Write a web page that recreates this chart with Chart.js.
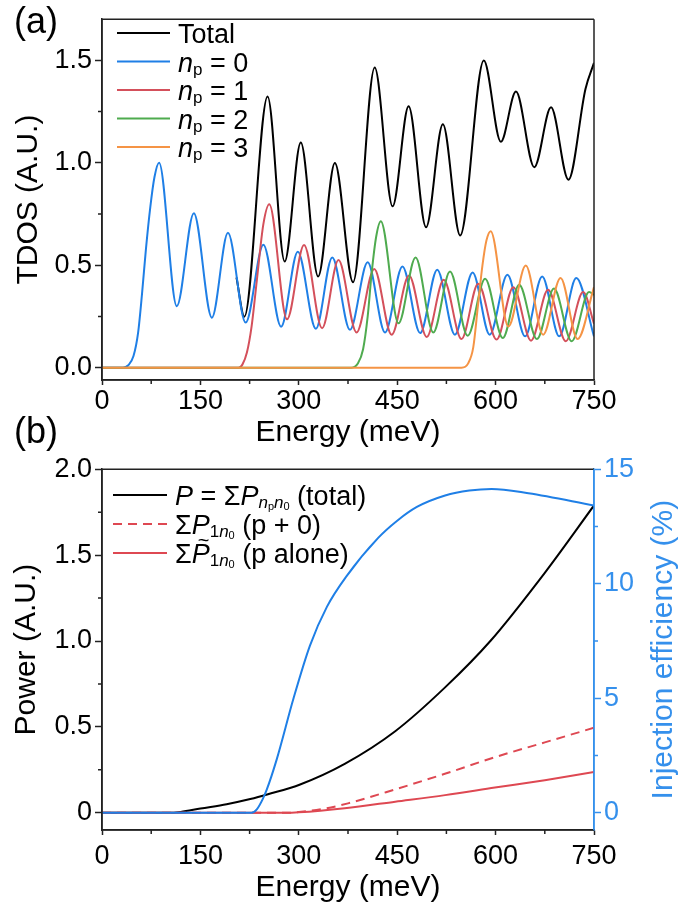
<!DOCTYPE html>
<html>
<head>
<meta charset="utf-8">
<script src="https://cdn.jsdelivr.net/npm/chart.js@4/dist/chart.umd.min.js"></script>
<style>
  body { margin: 0; background: #fff; width: 680px; height: 911px; position: relative; overflow: hidden;
         font-family: 'Liberation Sans', Arial, sans-serif; }
  canvas { position: absolute; left: 0; }
  #ca { top: 0; }
  #cb { top: 450px; }
  .tag { position: absolute; left: 14px; font-size: 36px; line-height: 36px; color: #000; }
</style>
</head>
<body>
<canvas id="ca" width="680" height="455"></canvas>
<canvas id="cb" width="680" height="461"></canvas>
<div class="tag" style="top:3px">(a)</div>
<div class="tag" style="top:413px">(b)</div>
<script>
// ---- panel (a): TDOS ----
const energyTotal = [205, 217, 252.4, 278.5, 303, 329.5, 355, 382.7, 415.7, 443, 467.4, 494, 519.6, 546, 582, 608, 631, 659, 684.5, 711, 737, 750]
const tdosTotal   = [0.44, 0.249, 1.323, 0.518, 1.098, 0.445, 0.999, 0.417, 1.464, 0.787, 1.275, 0.685, 1.187, 0.645, 1.499, 1.102, 1.347, 0.978, 1.27, 0.917, 1.36, 1.487]

const energyN0 = [0, 32, 40, 48, 55, 61, 67, 73.5, 80, 87, 114, 140, 167.5, 192, 219, 246, 273, 298.5, 326, 351, 378, 405, 431.5, 458, 485, 511, 538, 565, 591, 618, 645, 671, 697, 723, 750]
const tdosN0   = [0, 0, 0.012, 0.057, 0.17, 0.36, 0.58, 0.78, 0.93, 1.0, 0.30, 0.754, 0.244, 0.658, 0.22, 0.60, 0.20, 0.566, 0.19, 0.538, 0.185, 0.514, 0.172, 0.494, 0.169, 0.478, 0.161, 0.465, 0.161, 0.453, 0.153, 0.445, 0.153, 0.437, 0.153]

const energyN1 = [0, 208, 214, 221, 228, 236, 246, 255, 282, 308, 335.5, 360.5, 388, 415, 441.5, 468, 495, 521, 548, 573.5, 601.5, 627, 654, 680, 707, 733.5, 750]
const tdosN1   = [0, 0, 0.015, 0.075, 0.2, 0.425, 0.7, 0.797, 0.236, 0.599, 0.193, 0.525, 0.172, 0.482, 0.161, 0.45, 0.15, 0.429, 0.14, 0.41, 0.137, 0.393, 0.132, 0.38, 0.129, 0.369, 0.215]

const energyN2 = [0, 380, 390, 398, 405, 411, 418, 425, 452, 478, 505, 530.5, 557.5, 584, 611, 636, 663, 689, 716, 742.5, 750]
const tdosN2   = [0, 0, 0.02, 0.09, 0.25, 0.46, 0.64, 0.714, 0.217, 0.538, 0.172, 0.469, 0.156, 0.434, 0.145, 0.405, 0.14, 0.386, 0.129, 0.369, 0.355]

const energyN3 = [0, 548, 558, 566, 573, 580, 586, 592.5, 619.5, 646, 672.5, 699, 725, 750]
const tdosN3   = [0, 0, 0.02, 0.1, 0.3, 0.5, 0.62, 0.666, 0.201, 0.498, 0.161, 0.438, 0.14, 0.393]

// ---- panel (b): power and injection efficiency ----
const energyPower = [0, 100, 120, 150, 190, 226, 253, 302, 370, 447, 523, 592, 675, 750]
const powerTotal  = [0, 0, 0.005, 0.025, 0.05, 0.08, 0.108, 0.165, 0.285, 0.475, 0.73, 1.0, 1.397, 1.789]

const energyP10 = [0, 280, 300, 340, 375, 450, 525, 600, 675, 750]
const powerP10  = [0, 0, 0.005, 0.025, 0.055, 0.14, 0.23, 0.325, 0.41, 0.495]

const energyP1alone = [0, 280, 300, 370, 447, 523, 599, 675, 750]
const powerP1alone  = [0, 0, 0.003, 0.027, 0.065, 0.103, 0.147, 0.19, 0.237]

const energyEff = [0, 228, 236, 245, 251, 266, 292, 317, 343, 372, 421, 450, 480, 523, 560, 594, 650, 750]
const efficiency = [0, 0, 0.15, 0.6, 1.0, 2.3, 5.0, 7.3, 9.0, 10.3, 12.0, 12.75, 13.35, 13.85, 14.07, 14.14, 13.95, 13.42]

// ---- ticks ----
const energyTicks = [0, 150, 300, 450, 600, 750]
const energyMinor = [75, 225, 375, 525, 675]
const tdosTicks = [0, 0.5, 1.0, 1.5]
const tdosMinor = [0.25, 0.75, 1.25]
const powerTicks = [0, 0.5, 1.0, 1.5, 2.0]
const powerMinor = [0.25, 0.75, 1.25, 1.75]
const effTicks = [0, 5, 10, 15]
const effMinor = [2.5, 7.5, 12.5]

// legend text pieces: [text, style]
const legendA = [
  [['Total', 'r']],
  [['n', 'i'], ['p', 's'], [' = 0', 'r']],
  [['n', 'i'], ['p', 's'], [' = 1', 'r']],
  [['n', 'i'], ['p', 's'], [' = 2', 'r']],
  [['n', 'i'], ['p', 's'], [' = 3', 'r']]
]
const legendB = [
  [['P', 'i'], [' = Σ', 'r'], ['P', 'i'], ['n', 'si'], ['p', 'ss'], ['n', 'si'], ['0', 'ss'], [' (total)', 'r']],
  [['Σ', 'r'], ['P', 'i'], ['1', 's'], ['n', 'si'], ['0', 'ss'], [' (p + 0)', 'r']],
  [['Σ', 'r'], ['P', 'i'], ['~', 'tl'], ['1', 's'], ['n', 'si'], ['0', 'ss'], [' (p alone)', 'r']]
]

const FONT = "'Liberation Sans', Arial, sans-serif"
const AXIS = '#222'
const BLUE = '#1f7fe6'
const RIGHT_BLUE = '#3590ec'
const RED_A = '#d4505b'
const RED_B = '#de4852'
const GREEN = '#4fab4f'
const ORANGE = '#f59445'

const pts = (xs, ys) => xs.map((x, i) => ({ x, y: ys[i] }))
const setTicks = vals => scale => { scale.ticks = vals.map(v => ({ value: v })) }

const STY = {
  r:  { size: 27, it: false, dy: 0 },
  i:  { size: 27, it: true,  dy: 0 },
  s:  { size: 17, it: false, dy: 3 },
  si: { size: 17, it: true,  dy: 3 },
  ss: { size: 11, it: false, dy: 5 }
}

function drawRich(ctx, x, y, parts) {
  let lastW = 0
  for (const [txt, st] of parts) {
    if (st === 'tl') {
      ctx.font = `20px ${FONT}`
      const w = ctx.measureText(txt).width
      ctx.fillText(txt, x - lastW / 2 - w / 2 + 3, y - 16)
      continue
    }
    const f = STY[st]
    ctx.font = `${f.it ? 'italic ' : ''}${f.size}px ${FONT}`
    ctx.fillText(txt, x, y + f.dy)
    lastW = ctx.measureText(txt).width
    x += lastW
  }
}

const frame = {
  id: 'frame',
  afterDraw(chart, args, o) {
    const { ctx, chartArea: a, scales } = chart
    ctx.save()
    ctx.lineWidth = 1.5
    ctx.strokeStyle = AXIS
    ctx.beginPath()
    ctx.moveTo(a.right, a.top); ctx.lineTo(a.left, a.top)
    ctx.lineTo(a.left, a.bottom); ctx.lineTo(a.right, a.bottom)
    ctx.stroke()
    ctx.strokeStyle = o.rightColor || AXIS
    ctx.beginPath(); ctx.moveTo(a.right, a.top); ctx.lineTo(a.right, a.bottom); ctx.stroke()

    ctx.strokeStyle = AXIS
    ctx.beginPath()
    for (const v of o.xMinor) {
      const p = scales.x.getPixelForValue(v)
      ctx.moveTo(p, a.bottom); ctx.lineTo(p, a.bottom + 4)
    }
    for (const v of o.yMinor) {
      const p = scales.y.getPixelForValue(v)
      ctx.moveTo(a.left - 4, p); ctx.lineTo(a.left, p)
    }
    ctx.stroke()
    if (o.y1Minor) {
      ctx.strokeStyle = o.rightColor
      ctx.beginPath()
      for (const v of o.y1Minor) {
        const p = scales.y1.getPixelForValue(v)
        ctx.moveTo(a.right, p); ctx.lineTo(a.right + 4, p)
      }
      ctx.stroke()
    }
    if (o.rightTitle) {
      ctx.fillStyle = o.rightColor
      ctx.font = `30px ${FONT}`
      ctx.textAlign = 'center'
      ctx.textBaseline = 'middle'
      ctx.translate(o.rightTitleX, (a.top + a.bottom) / 2)
      ctx.rotate(-Math.PI / 2)
      ctx.fillText(o.rightTitle, 0, 0)
    }
    ctx.restore()
  }
}

const richLegend = {
  id: 'richLegend',
  afterDraw(chart, args, o) {
    const ctx = chart.ctx
    ctx.save()
    ctx.fillStyle = '#000'
    ctx.textBaseline = 'alphabetic'
    o.items.forEach((parts, i) => {
      const ds = chart.data.datasets[o.map[i]]
      const y = o.y + i * o.gap
      ctx.strokeStyle = ds.borderColor
      ctx.lineWidth = 2
      ctx.setLineDash(ds.borderDash || [])
      ctx.beginPath(); ctx.moveTo(o.x, y); ctx.lineTo(o.x + o.len, y); ctx.stroke()
      ctx.setLineDash([])
      drawRich(ctx, o.x + o.len + o.pad, y + 10, parts)
    })
    ctx.restore()
  }
}

const tickFont = { size: 27, family: FONT }
const titleFont = { size: 30, family: FONT }
const gridOut = len => ({ drawOnChartArea: false, drawTicks: true, tickLength: len, tickColor: AXIS, tickWidth: 1.5 })

new Chart(document.getElementById('ca'), {
  type: 'line',
  data: {
    datasets: [
      { label: 'Total', data: pts(energyTotal, tdosTotal), borderColor: '#000', order: 4 },
      { label: 'np = 0', data: pts(energyN0, tdosN0), borderColor: BLUE, order: 3 },
      { label: 'np = 1', data: pts(energyN1, tdosN1), borderColor: RED_A, order: 2 },
      { label: 'np = 2', data: pts(energyN2, tdosN2), borderColor: GREEN, order: 1 },
      { label: 'np = 3', data: pts(energyN3, tdosN3), borderColor: ORANGE, order: 0 }
    ]
  },
  options: {
    responsive: false,
    animation: false,
    layout: { padding: { top: 14, left: 0, right: 86, bottom: 0 } },
    elements: { point: { radius: 0 }, line: { borderWidth: 2, cubicInterpolationMode: 'monotone' } },
    plugins: {
      legend: { display: false },
      tooltip: { enabled: false },
      frame: { xMinor: energyMinor, yMinor: tdosMinor },
      richLegend: { items: legendA, map: [0, 1, 2, 3, 4], x: 117, y: 33, gap: 28.5, len: 53, pad: 8 }
    },
    scales: {
      x: {
        type: 'linear', min: 0, max: 750,
        afterBuildTicks: setTicks(energyTicks),
        afterFit: s => { s.height = 75 },
        grid: gridOut(5),
        border: { color: AXIS, width: 1.5 },
        ticks: { font: tickFont, color: '#000', padding: 0, maxRotation: 0, autoSkip: false },
        title: { display: true, text: 'Energy (meV)', font: titleFont, color: '#000', padding: { top: 0, bottom: 4 } }
      },
      y: {
        min: -0.06, max: 1.7,
        afterBuildTicks: setTicks(tdosTicks),
        afterFit: s => { s.width = 102 },
        grid: gridOut(7),
        border: { color: AXIS, width: 1.5 },
        ticks: { font: tickFont, color: '#000', padding: 3, callback: v => v.toFixed(1) },
        title: { display: true, text: 'TDOS (A.U.)', font: titleFont, color: '#000', padding: { top: 11, bottom: 0 } }
      }
    }
  },
  plugins: [frame, richLegend]
})

new Chart(document.getElementById('cb'), {
  type: 'line',
  data: {
    datasets: [
      { label: 'Injection efficiency', data: pts(energyEff, efficiency), borderColor: BLUE, yAxisID: 'y1', order: 0 },
      { label: 'P total', data: pts(energyPower, powerTotal), borderColor: '#000', yAxisID: 'y', order: 3 },
      { label: 'P1n0 (p + 0)', data: pts(energyP10, powerP10), borderColor: RED_B, borderDash: [9, 6], yAxisID: 'y', order: 2 },
      { label: 'P1n0 (p alone)', data: pts(energyP1alone, powerP1alone), borderColor: RED_B, yAxisID: 'y', order: 1 }
    ]
  },
  options: {
    responsive: false,
    animation: false,
    layout: { padding: { top: 15, left: 0, right: 0, bottom: 0 } },
    elements: { point: { radius: 0 }, line: { borderWidth: 2, cubicInterpolationMode: 'monotone' } },
    plugins: {
      legend: { display: false },
      tooltip: { enabled: false },
      frame: { xMinor: energyMinor, yMinor: powerMinor, y1Minor: effMinor, rightColor: RIGHT_BLUE,
               rightTitle: 'Injection efficiency (%)', rightTitleX: 664 },
      richLegend: { items: legendB, map: [1, 2, 3], x: 113, y: 45, gap: 29, len: 54, pad: 8 }
    },
    scales: {
      x: {
        type: 'linear', min: 0, max: 750,
        afterBuildTicks: setTicks(energyTicks),
        afterFit: s => { s.height = 81 },
        grid: gridOut(5),
        border: { color: AXIS, width: 1.5 },
        ticks: { font: tickFont, color: '#000', padding: 5, maxRotation: 0, autoSkip: false },
        title: { display: true, text: 'Energy (meV)', font: titleFont, color: '#000', padding: { top: 0, bottom: 5 } }
      },
      y: {
        position: 'left', min: -0.1, max: 2.0,
        afterBuildTicks: setTicks(powerTicks),
        afterFit: s => { s.width = 102 },
        grid: gridOut(7),
        border: { color: AXIS, width: 1.5 },
        ticks: { font: tickFont, color: '#000', padding: 3, callback: v => v === 0 ? '0' : v.toFixed(1) },
        title: { display: true, text: 'Power (A.U.)', font: titleFont, color: '#000', padding: { top: 9, bottom: 0 } }
      },
      y1: {
        position: 'right', min: -0.75, max: 15,
        afterBuildTicks: setTicks(effTicks),
        afterFit: s => { s.width = 86 },
        grid: { drawOnChartArea: false, drawTicks: true, tickLength: 7, tickColor: RIGHT_BLUE, tickWidth: 1.5 },
        border: { color: RIGHT_BLUE, width: 1.5 },
        ticks: { font: tickFont, color: RIGHT_BLUE, padding: 3, callback: v => String(v) }
      }
    }
  },
  plugins: [frame, richLegend]
})
</script>
</body>
</html>
